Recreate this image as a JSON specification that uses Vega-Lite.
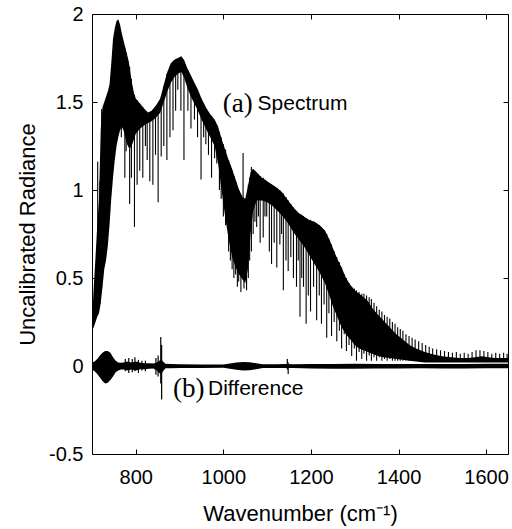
{
  "$schema": "https://vega.github.io/schema/vega-lite/v6.json",
  "width": 416,
  "height": 440,
  "autosize": {"type": "none"},
  "padding": {"left": 92, "top": 14, "right": 4, "bottom": 75},
  "background": "white",
  "config": {
    "view": {"stroke": "black", "strokeWidth": 1},
    "axis": {"domain": false, "grid": false, "ticks": true, "tickColor": "black", "tickSize": 5, "tickWidth": 1, "offset": -5,
      "labelFont": "Liberation Sans", "labelFontSize": 20, "labelColor": "black",
      "titleFont": "Liberation Sans", "titleFontSize": 22, "titleFontWeight": "normal", "titleColor": "black"}
  },
  "datasets": {
    "body": [
      {"wn":700,"hi":0.25,"lo":0.20},{"wn":704,"hi":0.45,"lo":0.22},{"wn":708,"hi":0.62,"lo":0.25},{"wn":712,"hi":0.80,"lo":0.28},
      {"wn":716,"hi":0.95,"lo":0.30},{"wn":720,"hi":1.35,"lo":0.36},{"wn":724,"hi":1.47,"lo":0.45},{"wn":728,"hi":1.50,"lo":0.55},
      {"wn":732,"hi":1.53,"lo":0.60},{"wn":736,"hi":1.56,"lo":0.68},{"wn":740,"hi":1.60,"lo":0.80},{"wn":744,"hi":1.72,"lo":0.95},
      {"wn":748,"hi":1.86,"lo":1.07},{"wn":752,"hi":1.92,"lo":1.17},{"wn":756,"hi":1.96,"lo":1.25},{"wn":760,"hi":1.97,"lo":1.30},
      {"wn":764,"hi":1.94,"lo":1.34},{"wn":768,"hi":1.89,"lo":1.36},{"wn":772,"hi":1.85,"lo":1.34},{"wn":776,"hi":1.81,"lo":1.30},
      {"wn":780,"hi":1.77,"lo":1.26},{"wn":784,"hi":1.73,"lo":1.24},{"wn":788,"hi":1.66,"lo":1.24},{"wn":792,"hi":1.60,"lo":1.26},
      {"wn":796,"hi":1.55,"lo":1.29},{"wn":800,"hi":1.52,"lo":1.32},{"wn":810,"hi":1.49,"lo":1.35},{"wn":820,"hi":1.46,"lo":1.37},
      {"wn":828,"hi":1.44,"lo":1.38},{"wn":836,"hi":1.45,"lo":1.39},{"wn":846,"hi":1.48,"lo":1.41},{"wn":856,"hi":1.52,"lo":1.44},
      {"wn":864,"hi":1.60,"lo":1.50},{"wn":872,"hi":1.67,"lo":1.56},{"wn":880,"hi":1.72,"lo":1.61},{"wn":888,"hi":1.74,"lo":1.64},
      {"wn":896,"hi":1.75,"lo":1.66},{"wn":904,"hi":1.76,"lo":1.67},{"wn":910,"hi":1.74,"lo":1.64},{"wn":918,"hi":1.69,"lo":1.58},
      {"wn":926,"hi":1.65,"lo":1.53},{"wn":934,"hi":1.61,"lo":1.49},{"wn":942,"hi":1.57,"lo":1.45},{"wn":950,"hi":1.52,"lo":1.40},
      {"wn":960,"hi":1.47,"lo":1.35},{"wn":970,"hi":1.43,"lo":1.30},{"wn":980,"hi":1.40,"lo":1.25},{"wn":988,"hi":1.36,"lo":1.15},
      {"wn":996,"hi":1.29,"lo":1.00},{"wn":1004,"hi":1.23,"lo":0.85},{"wn":1012,"hi":1.17,"lo":0.72},{"wn":1020,"hi":1.12,"lo":0.62},
      {"wn":1028,"hi":1.06,"lo":0.56},{"wn":1036,"hi":1.00,"lo":0.52},{"wn":1044,"hi":0.96,"lo":0.49},{"wn":1050,"hi":0.95,"lo":0.47},
      {"wn":1056,"hi":1.02,"lo":0.55},{"wn":1062,"hi":1.10,"lo":0.75},{"wn":1068,"hi":1.12,"lo":0.88},{"wn":1076,"hi":1.10,"lo":0.94},
      {"wn":1088,"hi":1.07,"lo":0.94},{"wn":1100,"hi":1.05,"lo":0.93},{"wn":1112,"hi":1.03,"lo":0.91},{"wn":1124,"hi":1.01,"lo":0.88},
      {"wn":1136,"hi":0.98,"lo":0.85},{"wn":1148,"hi":0.94,"lo":0.81},{"wn":1160,"hi":0.90,"lo":0.76},{"wn":1172,"hi":0.87,"lo":0.72},
      {"wn":1184,"hi":0.85,"lo":0.68},{"wn":1196,"hi":0.83,"lo":0.63},{"wn":1208,"hi":0.82,"lo":0.58},{"wn":1220,"hi":0.80,"lo":0.53},
      {"wn":1232,"hi":0.77,"lo":0.47},{"wn":1242,"hi":0.72,"lo":0.40},{"wn":1250,"hi":0.67,"lo":0.34},{"wn":1260,"hi":0.61,"lo":0.28},
      {"wn":1270,"hi":0.56,"lo":0.22},{"wn":1280,"hi":0.50,"lo":0.18},{"wn":1290,"hi":0.46,"lo":0.15},{"wn":1300,"hi":0.43,"lo":0.12},
      {"wn":1310,"hi":0.41,"lo":0.10},{"wn":1320,"hi":0.39,"lo":0.09},{"wn":1330,"hi":0.37,"lo":0.08},{"wn":1340,"hi":0.33,"lo":0.07},
      {"wn":1350,"hi":0.30,"lo":0.06},{"wn":1365,"hi":0.26,"lo":0.05},{"wn":1380,"hi":0.22,"lo":0.045},{"wn":1395,"hi":0.18,"lo":0.04},
      {"wn":1410,"hi":0.15,"lo":0.035},{"wn":1425,"hi":0.12,"lo":0.03},{"wn":1440,"hi":0.10,"lo":0.025},{"wn":1460,"hi":0.08,"lo":0.02},
      {"wn":1480,"hi":0.065,"lo":0.02},{"wn":1500,"hi":0.055,"lo":0.02},{"wn":1520,"hi":0.05,"lo":0.02},{"wn":1540,"hi":0.045,"lo":0.02},
      {"wn":1560,"hi":0.045,"lo":0.02},{"wn":1575,"hi":0.05,"lo":0.02},{"wn":1590,"hi":0.055,"lo":0.02},{"wn":1605,"hi":0.05,"lo":0.02},
      {"wn":1620,"hi":0.045,"lo":0.02},{"wn":1635,"hi":0.045,"lo":0.02},{"wn":1650,"hi":0.045,"lo":0.02}
    ],
    "lines": [
      {"wn":713,"top":1.16,"bot":0.30},{"wn":718,"top":1.05,"bot":0.35},{"wn":722,"top":1.46,"bot":0.45},
      {"wn":767,"top":1.88,"bot":1.30},{"wn":775,"top":1.81,"bot":1.07},{"wn":778,"top":1.78,"bot":1.22},{"wn":786,"top":1.70,"bot":0.92},
      {"wn":790,"top":1.63,"bot":1.07},{"wn":797,"top":1.54,"bot":0.79},{"wn":803,"top":1.51,"bot":1.03},{"wn":809,"top":1.49,"bot":1.11},
      {"wn":816,"top":1.47,"bot":1.07},{"wn":822,"top":1.45,"bot":1.25},{"wn":826,"top":1.44,"bot":1.17},{"wn":832,"top":1.44,"bot":1.05},
      {"wn":839,"top":1.45,"bot":1.03},{"wn":845,"top":1.47,"bot":1.20},{"wn":851,"top":1.49,"bot":0.93},{"wn":858,"top":1.53,"bot":1.19},
      {"wn":864,"top":1.59,"bot":1.25},{"wn":871,"top":1.66,"bot":1.17},{"wn":878,"top":1.70,"bot":1.30},{"wn":885,"top":1.73,"bot":1.34},
      {"wn":891,"top":1.74,"bot":1.45},{"wn":896,"top":1.74,"bot":1.57},{"wn":903,"top":1.75,"bot":1.45},{"wn":910,"top":1.73,"bot":1.17},
      {"wn":919,"top":1.68,"bot":1.45},{"wn":926,"top":1.64,"bot":1.35},{"wn":934,"top":1.60,"bot":1.40},{"wn":941,"top":1.56,"bot":1.30},
      {"wn":949,"top":1.52,"bot":1.06},{"wn":955,"top":1.49,"bot":1.30},{"wn":960,"top":1.46,"bot":1.26},{"wn":966,"top":1.44,"bot":1.20},
      {"wn":973,"top":1.42,"bot":1.07},{"wn":980,"top":1.39,"bot":1.18},{"wn":985,"top":1.37,"bot":1.15},{"wn":991,"top":1.33,"bot":1.00},
      {"wn":995,"top":1.30,"bot":0.95},{"wn":1000,"top":1.26,"bot":0.85},{"wn":1005,"top":1.23,"bot":0.80},{"wn":1012,"top":1.17,"bot":0.65},
      {"wn":1016,"top":1.14,"bot":0.60},{"wn":1020,"top":1.11,"bot":0.55},{"wn":1024,"top":1.08,"bot":0.50},{"wn":1028,"top":1.05,"bot":0.52},
      {"wn":1032,"top":1.02,"bot":0.45},{"wn":1035,"top":1.00,"bot":0.48},{"wn":1040,"top":0.97,"bot":0.42},{"wn":1045,"top":1.21,"bot":0.50},
      {"wn":1047,"top":0.95,"bot":0.44},{"wn":1053,"top":0.96,"bot":0.43},{"wn":1057,"top":1.03,"bot":0.50},{"wn":1060,"top":1.07,"bot":0.60},
      {"wn":1064,"top":1.13,"bot":0.65},{"wn":1068,"top":1.12,"bot":0.75},{"wn":1072,"top":1.11,"bot":0.82},{"wn":1076,"top":1.10,"bot":0.79},
      {"wn":1080,"top":1.09,"bot":0.85},{"wn":1084,"top":1.08,"bot":0.70},{"wn":1091,"top":1.07,"bot":0.73},{"wn":1095,"top":1.06,"bot":0.85},
      {"wn":1099,"top":1.05,"bot":0.85},{"wn":1105,"top":1.04,"bot":0.65},{"wn":1110,"top":1.03,"bot":0.58},{"wn":1116,"top":1.02,"bot":0.70},
      {"wn":1122,"top":1.01,"bot":0.56},{"wn":1129,"top":1.00,"bot":0.69},{"wn":1133,"top":0.99,"bot":0.75},{"wn":1137,"top":0.98,"bot":0.43},
      {"wn":1143,"top":0.96,"bot":0.60},{"wn":1148,"top":0.94,"bot":0.54},{"wn":1154,"top":0.92,"bot":0.62},{"wn":1160,"top":0.90,"bot":0.50},
      {"wn":1167,"top":0.88,"bot":0.45},{"wn":1171,"top":0.87,"bot":0.60},{"wn":1175,"top":0.86,"bot":0.28},{"wn":1179,"top":0.86,"bot":0.50},
      {"wn":1183,"top":0.85,"bot":0.45},{"wn":1189,"top":0.84,"bot":0.24},{"wn":1194,"top":0.83,"bot":0.40},{"wn":1199,"top":0.83,"bot":0.31},
      {"wn":1206,"top":0.82,"bot":0.45},{"wn":1213,"top":0.81,"bot":0.26},{"wn":1219,"top":0.80,"bot":0.40},{"wn":1224,"top":0.79,"bot":0.24},
      {"wn":1230,"top":0.77,"bot":0.35},{"wn":1236,"top":0.75,"bot":0.16},{"wn":1241,"top":0.72,"bot":0.30},{"wn":1247,"top":0.69,"bot":0.17},
      {"wn":1253,"top":0.65,"bot":0.25},{"wn":1259,"top":0.62,"bot":0.14},{"wn":1265,"top":0.59,"bot":0.20},{"wn":1270,"top":0.56,"bot":0.10},
      {"wn":1276,"top":0.52,"bot":0.18},{"wn":1281,"top":0.50,"bot":0.085},{"wn":1287,"top":0.47,"bot":0.12},{"wn":1293,"top":0.45,"bot":0.057},
      {"wn":1299,"top":0.44,"bot":0.10},{"wn":1304,"top":0.43,"bot":0.03},{"wn":1310,"top":0.42,"bot":0.08},{"wn":1316,"top":0.41,"bot":0.04},
      {"wn":1321,"top":0.41,"bot":0.07},{"wn":1327,"top":0.40,"bot":0.03},{"wn":1333,"top":0.39,"bot":0.06},{"wn":1338,"top":0.38,"bot":0.03},
      {"wn":1344,"top":0.36,"bot":0.05},{"wn":1350,"top":0.34,"bot":0.03},{"wn":1356,"top":0.32,"bot":0.05},{"wn":1362,"top":0.31,"bot":0.03},
      {"wn":1368,"top":0.29,"bot":0.04},{"wn":1374,"top":0.28,"bot":0.03},{"wn":1380,"top":0.27,"bot":0.04},{"wn":1386,"top":0.25,"bot":0.03},
      {"wn":1392,"top":0.24,"bot":0.03},{"wn":1398,"top":0.22,"bot":0.03},{"wn":1404,"top":0.21,"bot":0.03},{"wn":1410,"top":0.20,"bot":0.03},
      {"wn":1417,"top":0.18,"bot":0.03},{"wn":1424,"top":0.17,"bot":0.03},{"wn":1431,"top":0.16,"bot":0.03},{"wn":1438,"top":0.15,"bot":0.03},
      {"wn":1446,"top":0.14,"bot":0.03},{"wn":1454,"top":0.13,"bot":0.03},{"wn":1462,"top":0.12,"bot":0.03},{"wn":1470,"top":0.11,"bot":0.03},
      {"wn":1478,"top":0.10,"bot":0.03},{"wn":1487,"top":0.095,"bot":0.03},{"wn":1496,"top":0.09,"bot":0.03},{"wn":1505,"top":0.085,"bot":0.03},
      {"wn":1514,"top":0.08,"bot":0.03},{"wn":1523,"top":0.075,"bot":0.03},{"wn":1532,"top":0.08,"bot":0.03},{"wn":1541,"top":0.07,"bot":0.03},
      {"wn":1550,"top":0.075,"bot":0.03},{"wn":1559,"top":0.07,"bot":0.03},{"wn":1568,"top":0.08,"bot":0.03},{"wn":1577,"top":0.09,"bot":0.03},
      {"wn":1586,"top":0.09,"bot":0.03},{"wn":1595,"top":0.085,"bot":0.03},{"wn":1604,"top":0.08,"bot":0.03},{"wn":1613,"top":0.07,"bot":0.03},
      {"wn":1622,"top":0.075,"bot":0.03},{"wn":1631,"top":0.07,"bot":0.03},{"wn":1640,"top":0.075,"bot":0.03},{"wn":1648,"top":0.07,"bot":0.03}
    ],
    "diff": [
      {"wn":700,"hi":0.02,"lo":-0.02},{"wn":706,"hi":0.025,"lo":-0.03},{"wn":712,"hi":0.04,"lo":-0.045},{"wn":718,"hi":0.06,"lo":-0.065},
      {"wn":724,"hi":0.075,"lo":-0.085},{"wn":730,"hi":0.085,"lo":-0.10},{"wn":736,"hi":0.085,"lo":-0.095},{"wn":742,"hi":0.075,"lo":-0.08},
      {"wn":748,"hi":0.05,"lo":-0.06},{"wn":754,"hi":0.03,"lo":-0.035},{"wn":760,"hi":0.02,"lo":-0.025},{"wn":766,"hi":0.018,"lo":-0.02},
      {"wn":772,"hi":0.02,"lo":-0.02},{"wn":780,"hi":0.025,"lo":-0.025},{"wn":790,"hi":0.02,"lo":-0.02},{"wn":800,"hi":0.025,"lo":-0.025},
      {"wn":810,"hi":0.018,"lo":-0.018},{"wn":820,"hi":0.015,"lo":-0.018},{"wn":830,"hi":0.015,"lo":-0.015},{"wn":840,"hi":0.014,"lo":-0.014},
      {"wn":848,"hi":0.02,"lo":-0.025},{"wn":854,"hi":0.03,"lo":-0.04},{"wn":858,"hi":0.04,"lo":-0.05},{"wn":862,"hi":0.025,"lo":-0.03},
      {"wn":868,"hi":0.013,"lo":-0.013},{"wn":880,"hi":0.012,"lo":-0.013},{"wn":900,"hi":0.01,"lo":-0.012},{"wn":950,"hi":0.009,"lo":-0.011},
      {"wn":1000,"hi":0.009,"lo":-0.01},{"wn":1015,"hi":0.014,"lo":-0.016},{"wn":1030,"hi":0.02,"lo":-0.022},{"wn":1045,"hi":0.023,"lo":-0.025},
      {"wn":1060,"hi":0.022,"lo":-0.024},{"wn":1075,"hi":0.016,"lo":-0.018},{"wn":1090,"hi":0.01,"lo":-0.012},{"wn":1120,"hi":0.01,"lo":-0.011},
      {"wn":1140,"hi":0.011,"lo":-0.012},{"wn":1160,"hi":0.01,"lo":-0.012},{"wn":1200,"hi":0.011,"lo":-0.014},{"wn":1250,"hi":0.012,"lo":-0.016},
      {"wn":1300,"hi":0.013,"lo":-0.015},{"wn":1350,"hi":0.012,"lo":-0.014},{"wn":1400,"hi":0.012,"lo":-0.014},{"wn":1450,"hi":0.011,"lo":-0.013},
      {"wn":1500,"hi":0.012,"lo":-0.014},{"wn":1550,"hi":0.012,"lo":-0.014},{"wn":1600,"hi":0.013,"lo":-0.013},{"wn":1650,"hi":0.013,"lo":-0.013}
    ],
    "spikes": [
      {"wn":776,"top":0.04,"bot":-0.03},{"wn":784,"top":0.045,"bot":-0.04},{"wn":792,"top":0.04,"bot":-0.035},{"wn":798,"top":0.05,"bot":-0.03},
      {"wn":806,"top":0.035,"bot":-0.04},{"wn":814,"top":0.03,"bot":-0.025},{"wn":822,"top":0.03,"bot":-0.03},{"wn":846,"top":0.045,"bot":-0.05},
      {"wn":851,"top":0.06,"bot":-0.06},{"wn":857,"top":0.165,"bot":-0.10},{"wn":859,"top":0.12,"bot":-0.19},
      {"wn":1146,"top":0.04,"bot":-0.02},{"wn":1148,"top":0.02,"bot":-0.045}
    ],
    "serif": [
      {"wn":1033,"v":1.49,"t":"(a)"},{"wn":921,"v":-0.128,"t":"(b)"}
    ],
    "sans": [
      {"wn":1078,"v":1.49,"t":"Spectrum"},{"wn":965,"v":-0.128,"t":"Difference"}
    ]
  },
  "resolve": {"axis": {"x": "independent", "y": "independent"}},
  "layer": [
    {
      "data": {"name": "body"},
      "mark": {"type": "area", "color": "black", "strokeWidth": 0},
      "encoding": {
        "x": {"field": "wn", "type": "quantitative",
          "scale": {"domain": [700, 1650], "nice": false, "zero": false},
          "axis": {"orient": "bottom", "values": [800, 1000, 1200, 1400, 1600], "format": "d", "labelPadding": 13, "title": "Wavenumber (cm⁻¹)", "titlePadding": 16}},
        "y": {"field": "hi", "type": "quantitative",
          "scale": {"domain": [-0.5, 2], "nice": false, "zero": false},
          "axis": {"orient": "left", "values": [-0.5, 0, 0.5, 1, 1.5, 2], "labelExpr": "'' + datum.value", "labelPadding": 9, "title": "Uncalibrated Radiance", "titlePadding": 9}},
        "y2": {"field": "lo"}
      }
    },
    {
      "data": {"name": "lines"},
      "mark": {"type": "rule", "color": "black", "strokeWidth": 1.1},
      "encoding": {
        "x": {"field": "wn", "type": "quantitative",
          "axis": {"orient": "top", "values": [800, 1000, 1200, 1400, 1600], "labels": false, "title": null}},
        "y": {"field": "top", "type": "quantitative",
          "axis": {"orient": "right", "values": [-0.5, 0, 0.5, 1, 1.5, 2], "labels": false, "title": null}},
        "y2": {"field": "bot"}
      }
    },
    {
      "data": {"name": "diff"},
      "mark": {"type": "area", "color": "black", "strokeWidth": 0},
      "encoding": {
        "x": {"field": "wn", "type": "quantitative", "axis": null},
        "y": {"field": "hi", "type": "quantitative", "axis": null},
        "y2": {"field": "lo"}
      }
    },
    {
      "data": {"name": "spikes"},
      "mark": {"type": "rule", "color": "black", "strokeWidth": 1.2},
      "encoding": {
        "x": {"field": "wn", "type": "quantitative", "axis": null},
        "y": {"field": "top", "type": "quantitative", "axis": null},
        "y2": {"field": "bot"}
      }
    },
    {
      "data": {"name": "serif"},
      "mark": {"type": "text", "font": "Liberation Serif", "fontSize": 27, "color": "black", "align": "center", "baseline": "middle"},
      "encoding": {
        "x": {"field": "wn", "type": "quantitative", "axis": null},
        "y": {"field": "v", "type": "quantitative", "axis": null},
        "text": {"field": "t"}
      }
    },
    {
      "data": {"name": "sans"},
      "mark": {"type": "text", "font": "Liberation Sans", "fontSize": 21, "color": "black", "align": "left", "baseline": "middle"},
      "encoding": {
        "x": {"field": "wn", "type": "quantitative", "axis": null},
        "y": {"field": "v", "type": "quantitative", "axis": null},
        "text": {"field": "t"}
      }
    }
  ]
}
